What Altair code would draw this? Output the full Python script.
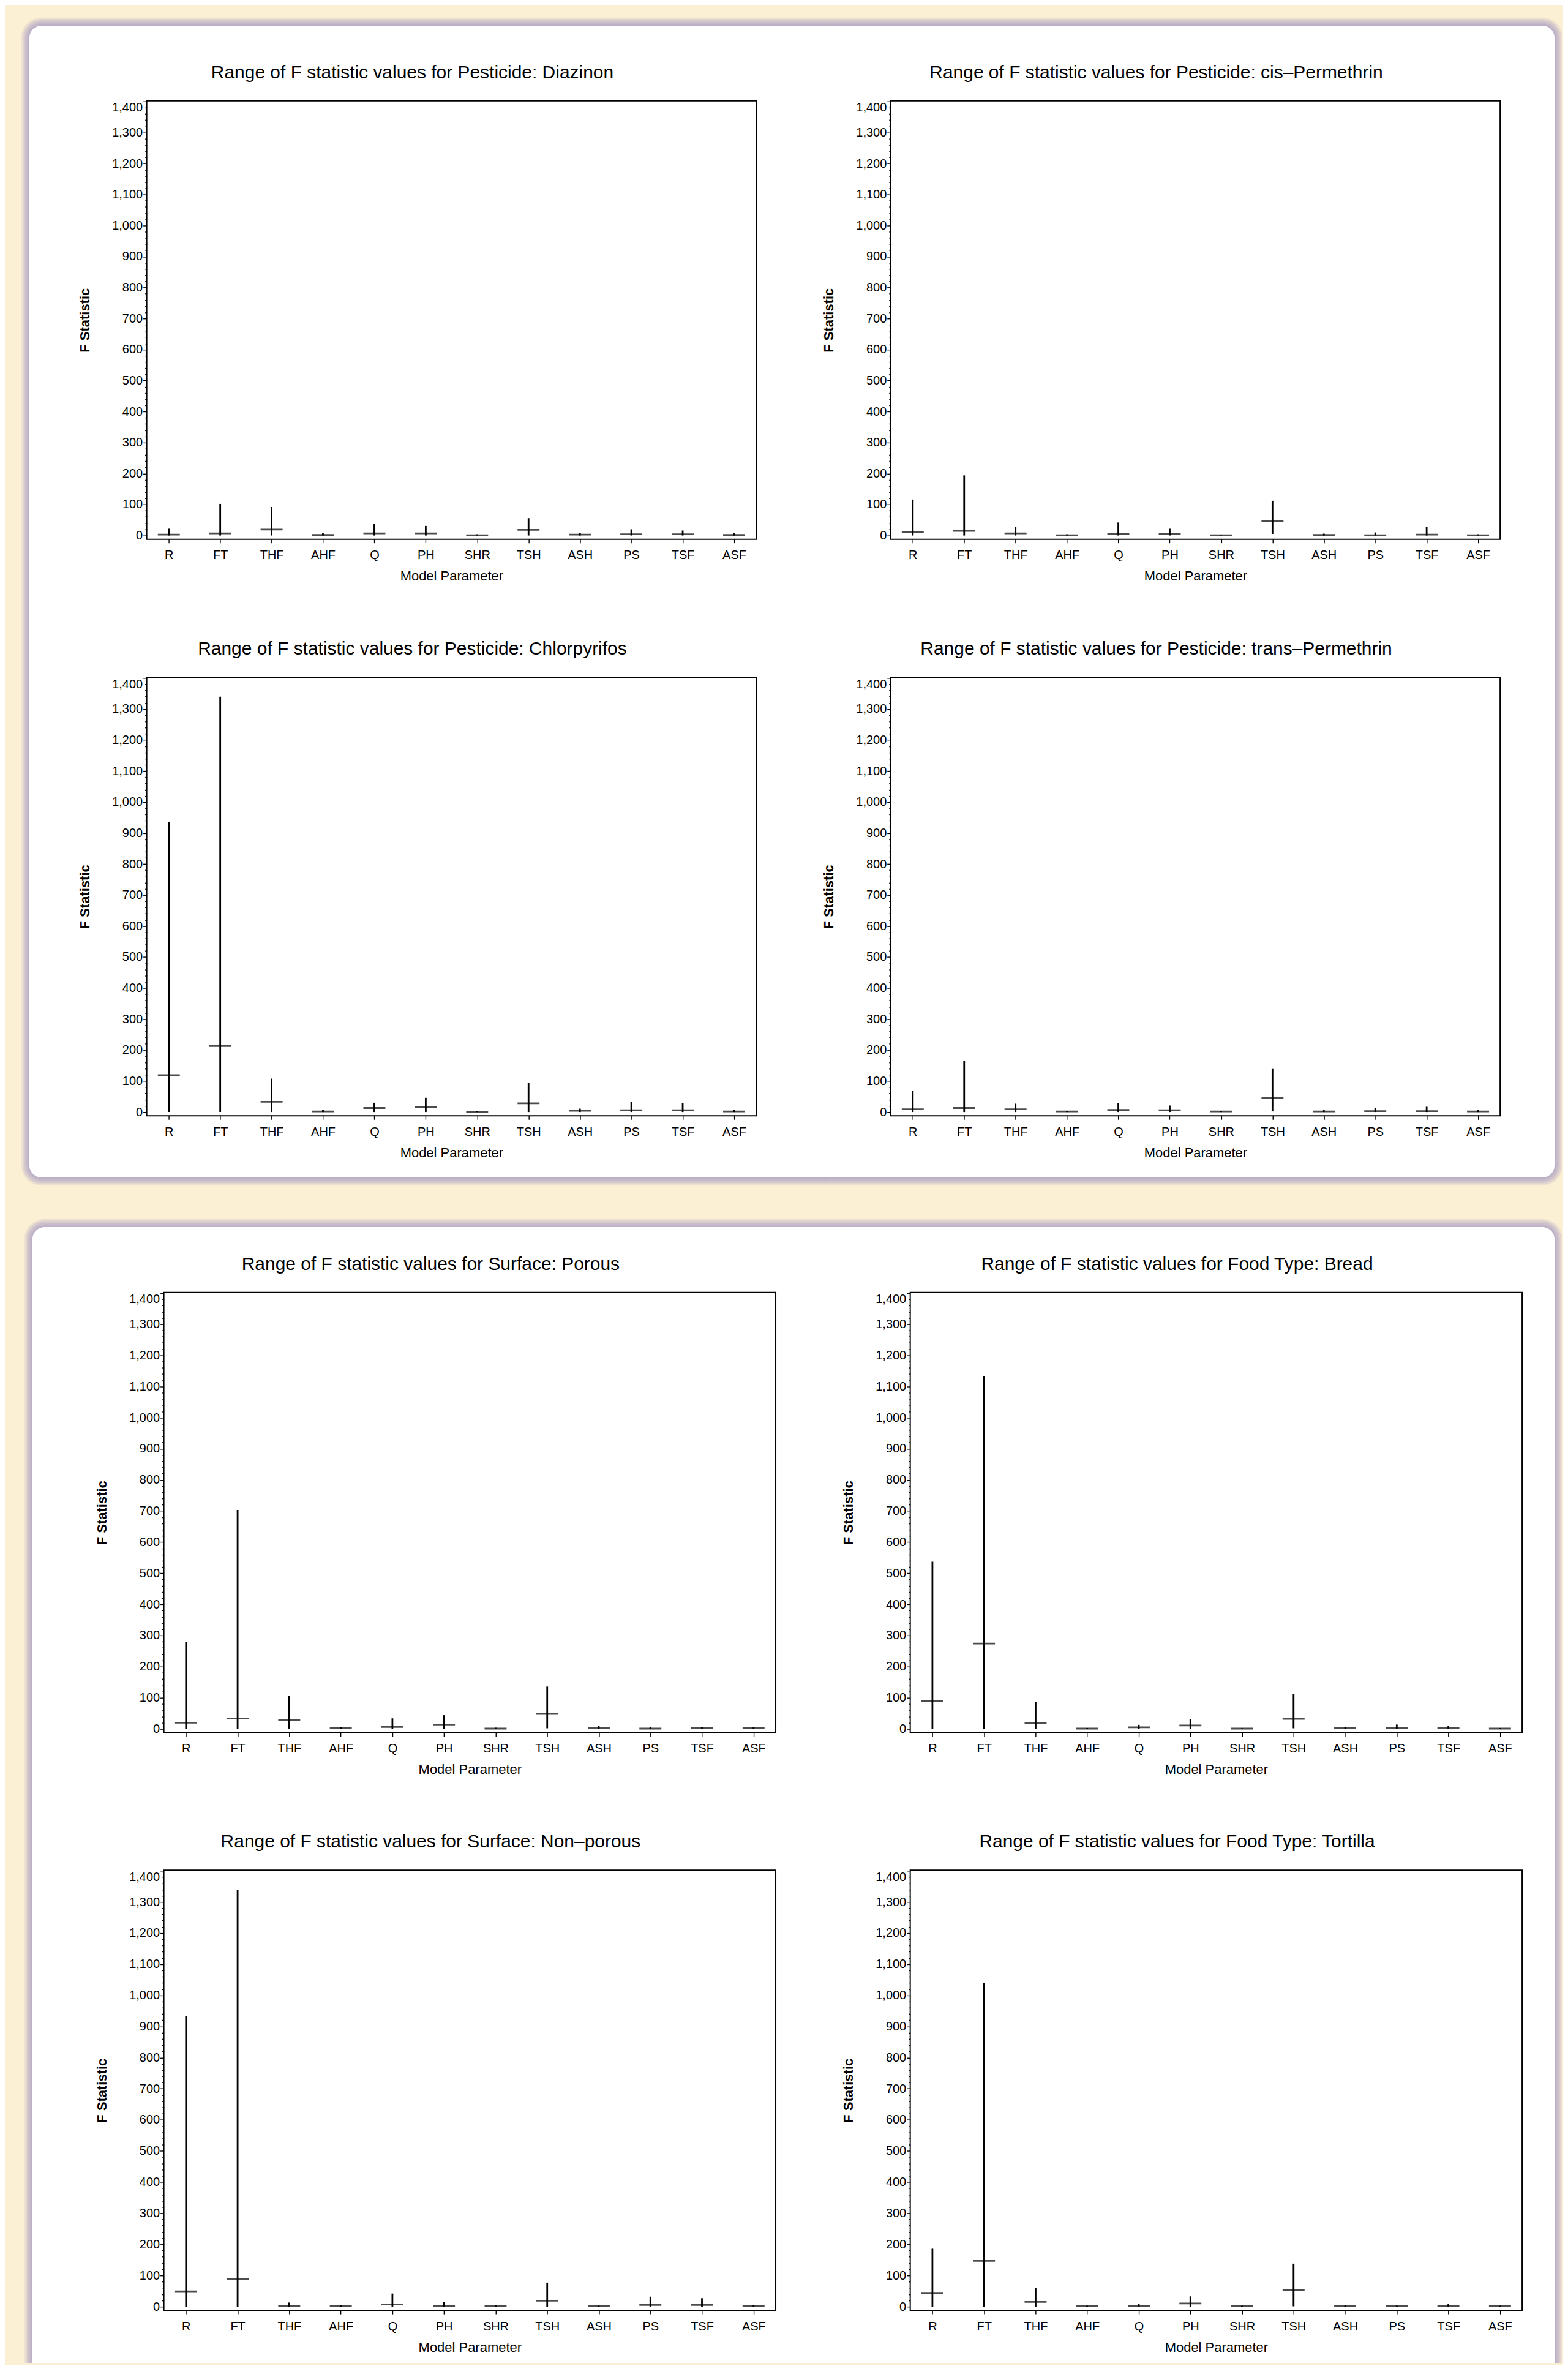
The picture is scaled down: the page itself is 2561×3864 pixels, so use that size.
import altair as alt
import pandas as pd

# ---------------- data ----------------
PARAMS = ["R", "FT", "THF", "AHF", "Q", "PH", "SHR", "TSH", "ASH", "PS", "TSF", "ASF"]

TITLES = [
    "Range of F statistic values for Pesticide: Diazinon",
    "Range of F statistic values for Pesticide: cis\u2013Permethrin",
    "Range of F statistic values for Pesticide: Chlorpyrifos",
    "Range of F statistic values for Pesticide: trans\u2013Permethrin",
    "Range of F statistic values for Surface: Porous",
    "Range of F statistic values for Food Type: Bread",
    "Range of F statistic values for Surface: Non\u2013porous",
    "Range of F statistic values for Food Type: Tortilla",
]

DIAZINON_MIN = [0, 0, 0, 0, 0, 0, 0, 0, 0, 0, 0, 0]
DIAZINON_MID = [3, 7, 19, 2, 7, 7, 1, 18, 3, 4, 4, 2]
DIAZINON_MAX = [22, 102, 92, 7, 37, 31, 4, 56, 8, 20, 16, 7]

CIS_MIN = [0, 0, 0, 0, 0, 0, 0, 5, 0, 0, 0, 0]
CIS_MID = [10, 15, 7, 1, 5, 6, 1, 46, 2, 1, 3, 1]
CIS_MAX = [116, 194, 28, 4, 42, 22, 3, 112, 6, 10, 27, 4]

CHLOR_MIN = [0, 0, 0, 0, 0, 0, 0, 0, 0, 0, 0, 0]
CHLOR_MID = [119, 213, 33, 2, 13, 17, 1, 28, 4, 6, 6, 2]
CHLOR_MAX = [936, 1340, 108, 8, 30, 46, 4, 94, 11, 32, 28, 8]

TRANS_MIN = [0, 0, 0, 0, 0, 0, 0, 2, 0, 0, 0, 0]
TRANS_MID = [9, 13, 9, 2, 7, 6, 2, 46, 2, 3, 3, 2]
TRANS_MAX = [68, 165, 27, 4, 28, 21, 4, 139, 6, 14, 17, 6]

POROUS_MIN = [0, 0, 0, 0, 0, 0, 0, 2, 0, 0, 0, 0]
POROUS_MID = [20, 33, 28, 2, 6, 14, 1, 48, 3, 1, 2, 2]
POROUS_MAX = [280, 703, 107, 5, 34, 44, 4, 136, 10, 5, 5, 5]

BREAD_MIN = [0, 0, 1, 0, 0, 0, 0, 2, 0, 0, 0, 0]
BREAD_MID = [90, 274, 19, 1, 5, 11, 1, 32, 2, 2, 2, 1]
BREAD_MAX = [537, 1134, 86, 3, 13, 31, 2, 113, 6, 14, 9, 3]

NONPOROUS_MIN = [0, 0, 0, 0, 0, 0, 0, 0, 0, 0, 0, 0]
NONPOROUS_MID = [49, 89, 3, 1, 7, 3, 1, 19, 1, 5, 5, 2]
NONPOROUS_MAX = [934, 1338, 13, 4, 42, 14, 5, 77, 3, 32, 27, 4]

TORTILLA_MIN = [0, 0, 0, 0, 0, 0, 0, 1, 0, 0, 0, 0]
TORTILLA_MID = [44, 147, 15, 1, 3, 10, 1, 54, 3, 1, 3, 1]
TORTILLA_MAX = [186, 1039, 59, 3, 8, 33, 3, 138, 5, 3, 8, 3]

PANELS = [
    (DIAZINON_MIN, DIAZINON_MID, DIAZINON_MAX),
    (CIS_MIN, CIS_MID, CIS_MAX),
    (CHLOR_MIN, CHLOR_MID, CHLOR_MAX),
    (TRANS_MIN, TRANS_MID, TRANS_MAX),
    (POROUS_MIN, POROUS_MID, POROUS_MAX),
    (BREAD_MIN, BREAD_MID, BREAD_MAX),
    (NONPOROUS_MIN, NONPOROUS_MID, NONPOROUS_MAX),
    (TORTILLA_MIN, TORTILLA_MID, TORTILLA_MAX),
]

Y_TICKS = list(range(0, 1401, 20))

# ---------------- style / layout ----------------
FONT = "Liberation Sans, Arial, Helvetica, sans-serif"
CREAM = "#FCF0D4"
SHADOW = "#9A8CC0"
ONE = pd.DataFrame({"k": [0]})

COL_GAP = 220
TOP_W, TOP_H, TOP_LEAD = 997, 717, 9
BOT_W, BOT_H, BOT_LEAD = 1001, 720, 37
TOP_ORIGIN_Y = 8          # page y of the top group's grid origin
BOT_ORIGIN_Y = 1960       # page y of the bottom group's grid origin
TOP_ROW0 = 151
BOT_ROW0 = 145
TOP_GAP = 226
BOT_GAP = 225

y1 = TOP_ORIGIN_Y + TOP_ROW0
y2 = y1 + TOP_H + TOP_GAP
y3 = BOT_ORIGIN_Y + BOT_ROW0
y4 = y3 + BOT_H + BOT_GAP
xl_t = 8 + TOP_LEAD + COL_GAP
xr_t = xl_t + TOP_W + COL_GAP
xl_b = 8 + BOT_LEAD + COL_GAP
xr_b = xl_b + BOT_W + COL_GAP

ORIGINS = [(xl_t, y1), (xr_t, y1), (xl_t, y2), (xr_t, y2),
           (xl_b, y3), (xr_b, y3), (xl_b, y4), (xr_b, y4)]
SIZES = [(TOP_W, TOP_H)] * 4 + [(BOT_W, BOT_H)] * 4

TOP_CARD = (45, 36, 2540, 1920)
BOT_CARD = (50, 1998, 2540, 3856)
MX_T, MY_T = 1346, 990
MX_B, MY_B = 1376, 2950
# (piece rect in page coords), outer sides, rounded corner, cream underlay
PIECES = [
    ((TOP_CARD[0], TOP_CARD[1], MX_T, MY_T), "LT", "TopLeft", (8, 8, MX_T, MY_T)),
    ((MX_T, TOP_CARD[1], TOP_CARD[2], MY_T), "RT", "TopRight", None),
    ((TOP_CARD[0], MY_T, MX_T, TOP_CARD[3]), "LB", "BottomLeft", (8, MY_T, MX_T, BOT_ORIGIN_Y)),
    ((MX_T, MY_T, TOP_CARD[2], TOP_CARD[3]), "RB", "BottomRight", None),
    ((BOT_CARD[0], BOT_CARD[1], MX_B, MY_B), "LT", "TopLeft", (8, BOT_ORIGIN_Y, MX_B, MY_B)),
    ((MX_B, BOT_CARD[1], BOT_CARD[2], MY_B), "RT", "TopRight", None),
    ((BOT_CARD[0], MY_B, MX_B, BOT_CARD[3]), "L", None, None),
    ((MX_B, MY_B, BOT_CARD[2], BOT_CARD[3]), "R", None, None),
]


def rect(x1, y1_, x2, y2_, color, opacity=1.0, corner=None, radius=0):
    props = dict(color=color, opacity=opacity, strokeWidth=0)
    if corner:
        props["cornerRadius" + corner] = radius
    return alt.Chart(ONE).mark_rect(**props).encode(
        x=alt.value(x1), x2=alt.value(x2), y=alt.value(y1_), y2=alt.value(y2_)
    )


def spacer(w, h):
    return alt.Chart(ONE).mark_point(opacity=0).encode(
        x=alt.value(0), y=alt.value(0)
    ).properties(width=w, height=h)


x_axis = alt.Axis(
    title="Model Parameter", labelAngle=0, tickSize=6, tickWidth=1.4,
    labelPadding=10, labelFontSize=20, titleFontSize=22, titleFontWeight="normal",
    titlePadding=14, domain=False, zindex=1,
)
y_axis = alt.Axis(
    title="F Statistic", values=Y_TICKS,
    labelExpr="datum.value % 100 === 0 ? format(datum.value, ',') : ''",
    tickSize={"condition": {"test": "datum.value % 100 === 0", "value": 6}, "value": 3},
    labelBaseline={"condition": {"test": "datum.value === 1400", "value": "top"}, "value": "middle"},
    tickWidth=1.4, labelPadding=1, labelFontSize=20, labelOverlap=False,
    titleFontSize=22, titleFontWeight="bold", titlePadding=32,
    grid=False, domain=False, zindex=1,
)
x_scale = alt.Scale(type="point", padding=0.43)
y_scale = alt.Scale(domain=[-12, 1402], nice=False, zero=False)

N_SHADOW = 6
SHADOW_STEP = 2.2


def panel(i):
    mins, mids, maxs = PANELS[i]
    w, h = SIZES[i]
    ox, oy = ORIGINS[i]
    (px1, py1, px2, py2), outer, corner, cream = PIECES[i]
    df = pd.DataFrame({"param": PARAMS, "lo": mins, "mid": mids, "hi": maxs})

    layers = []
    if cream:
        cx1, cy1, cx2, cy2 = cream
        layers.append(rect(cx1 - ox, cy1 - oy, cx2 - ox, cy2 - oy, CREAM))
    for k in range(1, N_SHADOW + 1):
        e = SHADOW_STEP * k
        sx1 = px1 - e if "L" in outer else px1
        sx2 = px2 + e if "R" in outer else px2
        sy1 = py1 - e if "T" in outer else py1
        sy2 = py2 + e if "B" in outer else py2
        layers.append(rect(sx1 - ox, sy1 - oy, sx2 - ox, sy2 - oy, SHADOW, 0.15,
                           corner, 20 + e))
    # white card piece (inner sides overlap neighbours slightly)
    wx1 = px1 if "L" in outer else px1 - 2
    wx2 = px2 if "R" in outer else px2 + 2
    wy1 = py1 if "T" in outer else py1 - 2
    wy2 = py2 if ("B" in outer or i >= 6) else py2 + 2
    layers.append(rect(wx1 - ox, wy1 - oy, wx2 - ox, wy2 - oy, "white", 1.0, corner, 20))

    frame = alt.Chart(ONE).mark_rect(filled=False, color="black", strokeWidth=2).encode(
        x=alt.value(0), x2=alt.value(w), y=alt.value(0), y2=alt.value(h)
    )
    rules = alt.Chart(df).mark_rule(color="black", strokeWidth=2.8).encode(
        x=alt.X("param:N", sort=PARAMS, scale=x_scale, axis=x_axis),
        y=alt.Y("lo:Q", scale=y_scale, axis=y_axis),
        y2="hi:Q",
    )
    ticks = alt.Chart(df).mark_tick(color="black", thickness=2.8, size=36).encode(
        x=alt.X("param:N", sort=PARAMS, scale=x_scale, axis=x_axis),
        y=alt.Y("mid:Q", scale=y_scale, axis=y_axis),
    )
    title = alt.Chart(ONE).mark_text(
        text=TITLES[i], font=FONT, fontSize=30, color="black",
        align="center", baseline="alphabetic",
    ).encode(x=alt.value(w / 2 - 64), y=alt.value(-37))

    layers += [frame, rules, ticks, title]
    return alt.layer(*layers).properties(width=w, height=h)


top_cells = []
top_cells += [spacer(1, TOP_ROW0)] * 3
top_cells += [spacer(TOP_LEAD, TOP_H), panel(0), panel(1)]
top_cells += [spacer(1, TOP_GAP)] * 3
top_cells += [spacer(TOP_LEAD, TOP_H), panel(2), panel(3)]

bot_cells = []
bot_cells += [spacer(1, BOT_ROW0)] * 3
bot_cells += [spacer(BOT_LEAD, BOT_H), panel(4), panel(5)]
bot_cells += [spacer(1, BOT_GAP)] * 3
bot_cells += [spacer(BOT_LEAD, BOT_H), panel(6), panel(7)]

top_group = alt.concat(*top_cells, columns=3,
                       spacing={"row": 0, "column": COL_GAP}, bounds="flush")
bot_group = alt.concat(*bot_cells, columns=3,
                       spacing={"row": 0, "column": COL_GAP}, bounds="flush")

chart = alt.vconcat(top_group, bot_group, spacing=0, bounds="full").properties(
    background=CREAM, padding=0
).configure_view(
    stroke="transparent", strokeWidth=0
).configure_axis(
    labelFont=FONT, titleFont=FONT, labelColor="black", titleColor="black",
    tickColor="black",
)

chart.save("out.html", embed_options={"renderer": "svg", "actions": False})
